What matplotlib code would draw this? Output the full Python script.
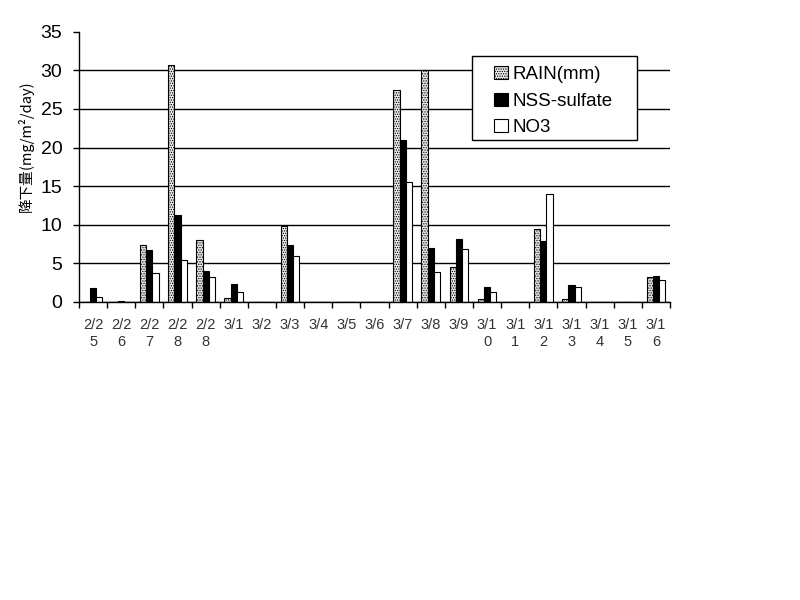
import matplotlib
matplotlib.use('Agg')
import matplotlib.pyplot as plt
from matplotlib.patches import Rectangle
import numpy as np

plt.rcParams['hatch.linewidth'] = 0.6

# fechas (se parten en dos líneas como en el original)
fechas = ['2/25', '2/26', '2/27', '2/28', '2/28', '3/1', '3/2', '3/3', '3/4', '3/5', '3/6',
          '3/7', '3/8', '3/9', '3/10', '3/11', '3/12', '3/13', '3/14', '3/15', '3/16']
rain = [0, 0, 7.3, 30.7, 8.0, 0.5, 0, 9.8, 0, 0, 0,
        27.4, 30.1, 4.5, 0.4, 0, 9.4, 0.4, 0, 0, 3.2]
nss_sulfate = [1.8, 0.1, 6.7, 11.2, 4.0, 2.3, 0, 7.3, 0, 0, 0,
               21.0, 7.0, 8.1, 1.9, 0, 7.9, 2.2, 0, 0, 3.3]
no3 = [0.6, 0, 3.7, 5.4, 3.2, 1.3, 0, 5.9, 0, 0, 0,
       15.5, 3.8, 6.8, 1.3, 0, 14.0, 1.9, 0, 0, 2.8]

etiquetas = [f[:3] + '\n' + f[3:] for f in fechas]

x = np.arange(len(fechas))
ancho = 0.22

fig = plt.figure(figsize=(8, 6), dpi=100)
ax = fig.add_axes([0.09875, 0.497, 0.73875, 0.45])

ax.set_axisbelow(True)
ax.yaxis.grid(True, color='black', linewidth=1)

ax.bar(x - ancho, rain, ancho, facecolor='#e8e8e8', edgecolor='black', hatch='.......',
       linewidth=0.8, label='RAIN(mm)')
ax.bar(x, nss_sulfate, ancho, facecolor='black', edgecolor='black', linewidth=0.8,
       label='NSS-sulfate')
ax.bar(x + ancho, no3, ancho, facecolor='white', edgecolor='black', linewidth=0.8,
       label='NO3')

ax.set_xlim(-0.5, len(fechas) - 0.5)
ax.set_ylim(0, 35)
ax.set_yticks(range(0, 36, 5))
ax.set_yticklabels([str(v) for v in range(0, 36, 5)], fontsize=14,
                   family=['Liberation Sans', 'DejaVu Sans'])
ax.get_ygridlines()[-1].set_visible(False)
ax.set_xticks(x)
ax.set_xticklabels(etiquetas, fontsize=10.5, family=['Liberation Sans', 'DejaVu Sans'],
                   color='#333333', linespacing=1.25)
ax.set_xticks(np.arange(-0.5, len(fechas), 1), minor=True)
ax.tick_params(axis='x', which='major', length=0, pad=12)
ax.tick_params(axis='x', which='minor', length=4, width=1, direction='out')
ax.tick_params(axis='y', length=4, width=1, pad=8)

for lado in ['top', 'right']:
    ax.spines[lado].set_visible(False)
ax.spines['left'].set_linewidth(1)
ax.spines['bottom'].set_linewidth(1)

ax.set_ylabel('降下量(mg/m²/day)', fontsize=10.5,
              family=['Noto Sans CJK JP', 'DejaVu Sans'])
ax.yaxis.set_label_coords(-0.076, 0.577)

# marco de la leyenda
marco = Rectangle((0.665, 0.601), 0.279, 0.309, transform=ax.transAxes,
                  facecolor='white', edgecolor='black', linewidth=1, zorder=3)
ax.add_patch(marco)

leg = ax.legend(loc='upper left', bbox_to_anchor=(0.703, 0.873), frameon=False,
                prop={'family': ['Liberation Sans', 'DejaVu Sans'], 'size': 13.5},
                handlelength=0.7, handleheight=0.7, handletextpad=0.25,
                borderpad=0, labelspacing=0.5, borderaxespad=0)
leg.set_zorder(4)

fig.savefig('out.png', dpi=100)
